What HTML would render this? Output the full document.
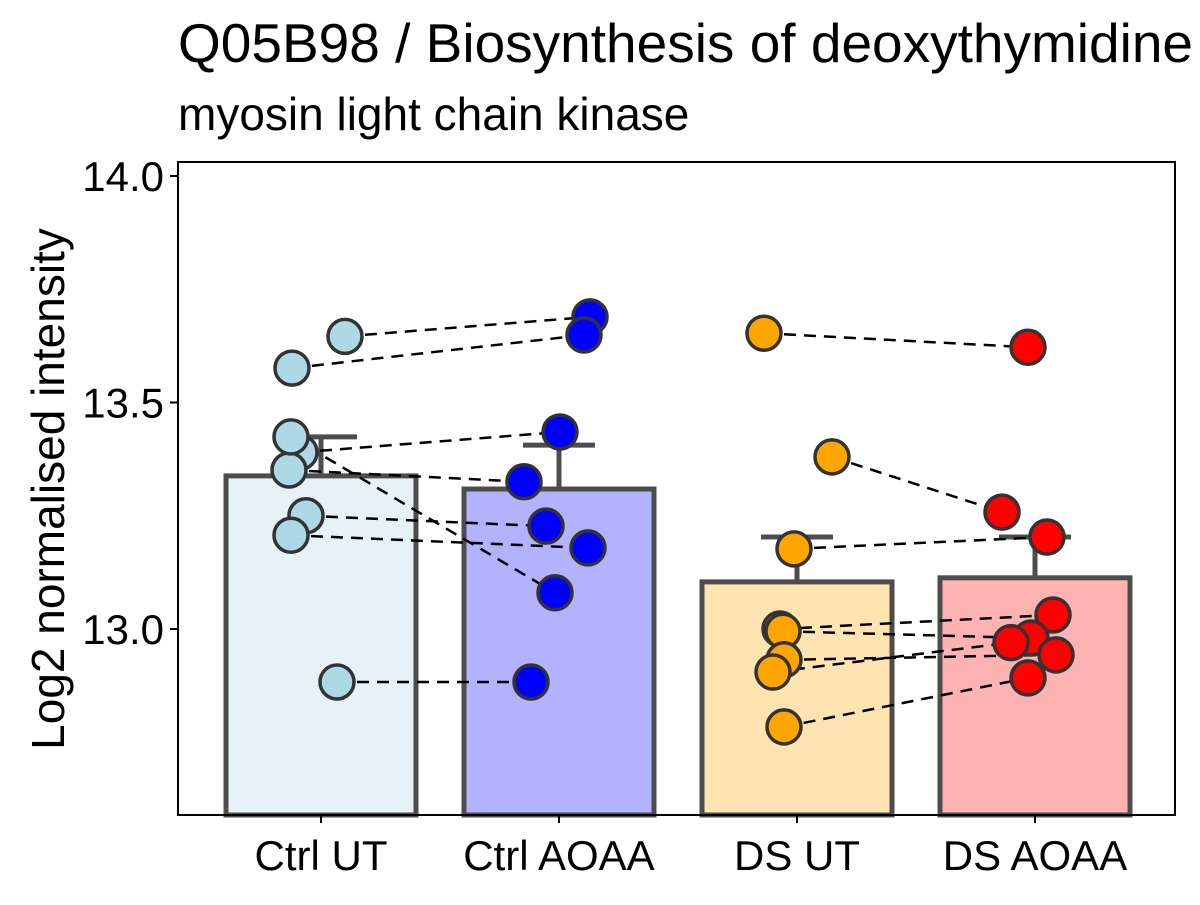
<!DOCTYPE html>
<html><head><meta charset="utf-8"><style>
body{margin:0;background:#fff;}
svg text{font-family:"Liberation Sans",Arial,sans-serif;}
</style></head><body>
<svg id="c" width="1200" height="900" xmlns="http://www.w3.org/2000/svg">
<text x="178" y="62" font-size="55" fill="#000">Q05B98 / Biosynthesis of deoxythymidine</text>
<text x="178" y="130" font-size="46" fill="#000">myosin light chain kinase</text>
<text transform="translate(64,489) rotate(-90)" text-anchor="middle" font-size="46" fill="#000">Log2 normalised intensity</text>
<g id="plot"></g>
</svg>
<script>
const categories=["Ctrl UT","Ctrl AOAA","DS UT","DS AOAA"];
const means=[13.338,13.309,13.104,13.113];
const errTop=[13.424,13.406,13.203,13.203];
const ctrlUT=[13.646,13.576,13.39,13.351,13.424,13.25,13.207,12.883];
const ctrlAOAA=[13.689,13.649,13.435,13.325,13.08,13.227,13.179,12.883];
const dsUT=[13.653,13.38,13.177,13.0,12.995,12.932,12.905,12.784];
const dsAOAA=[13.622,13.258,13.203,13.031,12.98,12.943,12.97,12.892];
const jitterA=[24,-29,-21,-32,-30,-15,-30,16];
const jitterB=[31,25,1,-35,-4,-13,29,-28];
const jitterC=[-33,35,-3,-17,-14,-13,-24,-13];
const jitterD=[-7,-33,12,18,-4,21,-24,-7];
const yTicks=[13.0,13.5,14.0];
const yTickLabels=["13.0","13.5","14.0"];
const fills=["#E6F2F8","#B2B2FF","#FFE4B2","#FFB2B2"];
const ptFills=["#ADD8E6","#0000FF","#FFA500","#FF0000"];

const ns="http://www.w3.org/2000/svg";
const g=document.getElementById('plot');
const L=178,R=1175,T=162,B=815;
const y0=14.0,yPix0=176,scale=453;
const y=v=>yPix0+(y0-v)*scale;
const x=i=>321+i*238;
const bw=190;
function mk(tag,attrs,parent){const e=document.createElementNS(ns,tag);for(const k in attrs)e.setAttribute(k,attrs[k]);(parent||g).appendChild(e);return e;}

categories.forEach((c,i)=>{
  const er=mk('line',{x1:x(i),x2:x(i),y1:y(errTop[i]),y2:y(means[i]),stroke:'#4d4d4d','stroke-width':5});
  
  
  const cap=mk('line',{x1:x(i)-36,x2:x(i)+36,y1:y(errTop[i]),y2:y(errTop[i]),stroke:'#4d4d4d','stroke-width':5});
  
  
  const r=mk('rect',{x:x(i)-bw/2,y:y(means[i]),width:bw,height:B-y(means[i]),fill:fills[i],stroke:'#4d4d4d','stroke-width':5});
  
  
});
function pairs(a,ja,ia,b,jb,ib){
  a.forEach((v,k)=>{
    const l=mk('line',{x1:x(ia)+ja[k],y1:y(v),x2:x(ib)+jb[k],y2:y(b[k]),stroke:'#000','stroke-width':2.5,'stroke-dasharray':'12,8'});
    
    
  });
}
pairs(ctrlUT,jitterA,0,ctrlAOAA,jitterB,1);
pairs(dsUT,jitterC,2,dsAOAA,jitterD,3);
[[ctrlUT,jitterA],[ctrlAOAA,jitterB],[dsUT,jitterC],[dsAOAA,jitterD]].forEach(([arr,j],i)=>{
  arr.forEach((v,k)=>{
    const p=mk('circle',{cx:x(i)+j[k],cy:y(v),r:17,fill:ptFills[i],stroke:'#333','stroke-width':3.5});
    
    
  });
});
const ax=mk('rect',{x:L,y:T,width:R-L,height:B-T,fill:'none',stroke:'#000','stroke-width':2});


yTicks.forEach((t,k)=>{
  mk('line',{x1:L-8,x2:L,y1:y(t),y2:y(t),stroke:'#000','stroke-width':2});
  const tx=mk('text',{x:L-14,y:y(t)+15,'text-anchor':'end','font-size':42,fill:'#000'});
  tx.textContent=yTickLabels[k];
  
  
});
categories.forEach((c,i)=>{
  mk('line',{x1:x(i),x2:x(i),y1:B,y2:B+8,stroke:'#000','stroke-width':2});
  const tx=mk('text',{x:x(i),y:870,'text-anchor':'middle','font-size':42,fill:'#000'});
  tx.textContent=c;
  
  
});
</script>
</body></html>
